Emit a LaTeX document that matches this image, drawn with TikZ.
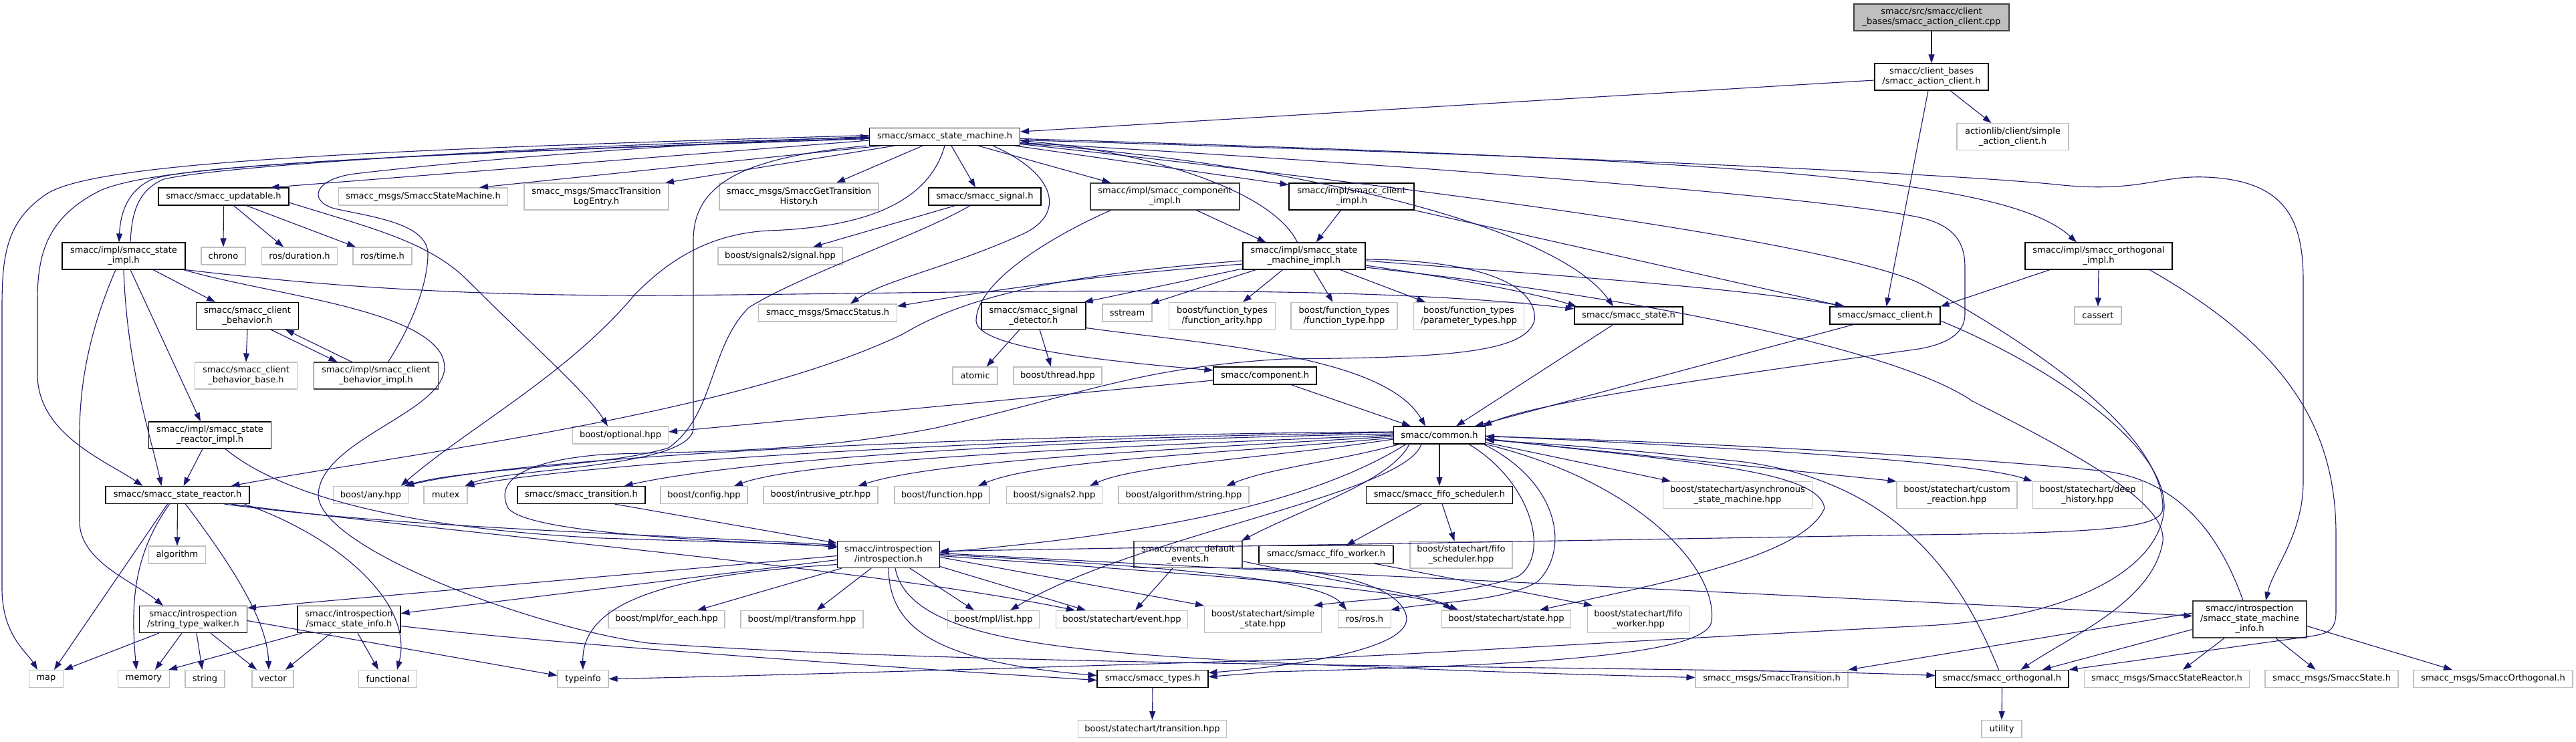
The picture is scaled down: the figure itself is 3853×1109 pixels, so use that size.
\documentclass[tikz,border=0pt]{standalone}
\usepackage{fontspec}
\setmainfont{DejaVu Sans}
\usetikzlibrary{arrows.meta}
\definecolor{eb}{HTML}{191970}
\definecolor{g75}{HTML}{BFBFBF}
\definecolor{g25}{HTML}{404040}
\newcommand{\lbl}{\fontsize{13}{15}\selectfont}
\tikzset{
  nb/.style={draw=black, line width=1.1pt, fill=white, inner sep=0pt, align=center, font=\lbl, minimum height=26pt},
  ng/.style={nb, draw=g75},
  nd/.style={nb, draw=g25},
  two/.style={minimum height=40pt},
  three/.style={minimum height=55pt},
  edg/.style={draw=eb, line width=1.1pt, -{Triangle[length=13pt,width=9pt]}},
}
\begin{document}
\begin{tikzpicture}[x=1pt,y=-1pt]
\fill[white] (0,0) rectangle (3853,1109);
\useasboundingbox (0,0) rectangle (3853,1109);
% ---------------- nodes ----------------
\node[nd,fill=g75,two,minimum width=232pt] (root) at (2889,26) {smacc/src/smacc/client\\\_bases/smacc\_action\_client.cpp};
\node[nb,two,minimum width=170pt] (ac) at (2889,115) {smacc/client\_bases\\/smacc\_action\_client.h};
\node[nb,minimum width=225pt] (sm) at (1413,204.5) {smacc/smacc\_state\_machine.h};
\node[ng,two,minimum width=167pt] (sac) at (3010.5,204.5) {actionlib/client/simple\\\_action\_client.h};
\node[nb,minimum width=195pt] (upd) at (334.5,294) {smacc/smacc\_updatable.h};
\node[ng,minimum width=253pt] (msm) at (633,294) {smacc\_msgs/SmaccStateMachine.h};
\node[ng,two,minimum width=216pt] (mtle) at (892,294) {smacc\_msgs/SmaccTransition\\LogEntry.h};
\node[ng,two,minimum width=238pt] (mgth) at (1195,294) {smacc\_msgs/SmaccGetTransition\\History.h};
\node[nb,minimum width=168pt] (sig) at (1473,294) {smacc/smacc\_signal.h};
\node[nd,two,minimum width=223pt] (compimpl) at (1742.5,294) {smacc/impl/smacc\_component\\\_impl.h};
\node[nb,two,minimum width=187pt] (climpl) at (2021.5,294) {smacc/impl/smacc\_client\\\_impl.h};
\node[nb,two,minimum width=184pt] (stimpl) at (185,383) {smacc/impl/smacc\_state\\\_impl.h};
\node[ng,minimum width=66pt] (chrono) at (334,383) {chrono};
\node[ng,minimum width=113pt] (rosdur) at (448,383) {ros/duration.h};
\node[ng,minimum width=88pt] (rostime) at (572,383) {ros/time.h};
\node[ng,minimum width=186pt] (sigsig) at (1167,383) {boost/signals2/signal.hpp};
\node[nb,two,minimum width=183pt] (smimpl) at (1950.5,383) {smacc/impl/smacc\_state\\\_machine\_impl.h};
\node[nb,two,minimum width=220pt] (orthimpl) at (3139,383) {smacc/impl/smacc\_orthogonal\\\_impl.h};
\node[nb,two,minimum width=153pt] (clbeh) at (370,472.5) {smacc/smacc\_client\\\_behavior.h};
\node[ng,minimum width=207pt] (status) at (1238,468) {smacc\_msgs/SmaccStatus.h};
\node[nb,two,minimum width=156pt] (sigdet) at (1546,472.5) {smacc/smacc\_signal\\\_detector.h};
\node[ng,minimum width=74pt] (sstream) at (1686,468) {sstream};
\node[ng,two,minimum width=159pt] (farity) at (1828,472.5) {boost/function\_types\\/function\_arity.hpp};
\node[ng,two,minimum width=159pt] (ftype) at (2010.5,472.5) {boost/function\_types\\/function\_type.hpp};
\node[ng,two,minimum width=165pt] (ptypes) at (2197,472.5) {boost/function\_types\\/parameter\_types.hpp};
\node[nb,minimum width=162pt] (state) at (2436,472) {smacc/smacc\_state.h};
\node[nb,minimum width=165pt] (client) at (2819.5,472) {smacc/smacc\_client.h};
\node[ng,minimum width=70pt] (cassert) at (3138,472) {cassert};
\node[ng,two,minimum width=153pt] (clbehbase) at (368,562) {smacc/smacc\_client\\\_behavior\_base.h};
\node[nd,two,minimum width=186pt] (clbehimpl) at (562.5,562) {smacc/impl/smacc\_client\\\_behavior\_impl.h};
\node[ng,minimum width=67pt] (atomic) at (1458.5,562) {atomic};
\node[ng,minimum width=132pt] (bthread) at (1582,562) {boost/thread.hpp};
\node[nb,minimum width=154pt] (comp) at (1892,562) {smacc/component.h};
\node[nb,two,minimum width=183pt] (reactimpl) at (314,651) {smacc/impl/smacc\_state\\\_reactor\_impl.h};
\node[ng,minimum width=143pt] (optional) at (928,651) {boost/optional.hpp};
\node[nb,minimum width=137pt] (common) at (2153,651) {smacc/common.h};
\node[nb,minimum width=215pt] (reactor) at (265.5,740.5) {smacc/smacc\_state\_reactor.h};
\node[ng,minimum width=112pt] (anyhpp) at (554.5,740.5) {boost/any.hpp};
\node[ng,minimum width=65pt] (mutex) at (666.5,740.5) {mutex};
\node[nb,minimum width=191pt] (trans) at (869.5,740.5) {smacc/smacc\_transition.h};
\node[ng,minimum width=130pt] (config) at (1053,740.5) {boost/config.hpp};
\node[ng,minimum width=171pt] (intrus) at (1227.5,740.5) {boost/intrusive\_ptr.hpp};
\node[ng,minimum width=142pt] (bfunc) at (1409,740.5) {boost/function.hpp};
\node[ng,minimum width=143pt] (sigtwo) at (1577,740.5) {boost/signals2.hpp};
\node[ng,minimum width=195pt] (algstr) at (1770.5,740.5) {boost/algorithm/string.hpp};
\node[nb,minimum width=219pt] (fifosch) at (2153,740.5) {smacc/smacc\_fifo\_scheduler.h};
\node[ng,two,minimum width=223pt] (async) at (2599,740.5) {boost/statechart/asynchronous\\\_state\_machine.hpp};
\node[ng,two,minimum width=180pt] (custom) at (2927,740.5) {boost/statechart/custom\\\_reaction.hpp};
\node[ng,two,minimum width=164pt] (deep) at (3122.5,740.5) {boost/statechart/deep\\\_history.hpp};
\node[ng,minimum width=85pt] (algorithm) at (265,830) {algorithm};
\node[nb,two,minimum width=153pt] (intro) at (1329,829.5) {smacc/introspection\\/introspection.h};
\node[nd,two,minimum width=162pt] (defev) at (1777,829.5) {smacc/smacc\_default\\\_events.h};
\node[nb,minimum width=201pt] (fifow) at (1983.5,829.5) {smacc/smacc\_fifo\_worker.h};
\node[ng,two,minimum width=153pt] (fifoschhpp) at (2185.5,830) {boost/statechart/fifo\\\_scheduler.hpp};
\node[nb,two,minimum width=161pt] (stw) at (289,926.5) {smacc/introspection\\/string\_type\_walker.h};
\node[nb,two,minimum width=154pt] (ssi) at (522,926.5) {smacc/introspection\\/smacc\_state\_info.h};
\node[ng,minimum width=174pt] (foreach) at (997,926.5) {boost/mpl/for\_each.hpp};
\node[ng,minimum width=183pt] (transform) at (1199.5,926.5) {boost/mpl/transform.hpp};
\node[ng,minimum width=137pt] (list) at (1486,926.5) {boost/mpl/list.hpp};
\node[ng,minimum width=197pt] (event) at (1678,926.5) {boost/statechart/event.hpp};
\node[ng,two,minimum width=175pt] (simple) at (1889,926.5) {boost/statechart/simple\\\_state.hpp};
\node[ng,minimum width=79pt] (rosros) at (2041,926) {ros/ros.h};
\node[ng,minimum width=193pt] (statehpp) at (2253,926) {boost/statechart/state.hpp};
\node[ng,two,minimum width=152pt] (fifowhpp) at (2450.5,926.5) {boost/statechart/fifo\\\_worker.hpp};
\node[nd,three,minimum width=170pt] (smi) at (3365,926.5) {smacc/introspection\\/smacc\_state\_machine\\\_info.h};
\node[ng,minimum width=51pt] (map) at (69,1015.5) {map};
\node[ng,minimum width=77pt] (memory) at (215,1015.5) {memory};
\node[ng,minimum width=59pt] (string) at (306.5,1015.5) {string};
\node[ng,minimum width=62pt] (vector) at (408,1015.5) {vector};
\node[ng,minimum width=87pt] (functional) at (580,1015.5) {functional};
\node[ng,minimum width=76pt] (typeinfo) at (872,1015.5) {typeinfo};
\node[nb,minimum width=166pt] (types) at (1724,1015.5) {smacc/smacc\_types.h};
\node[ng,minimum width=228pt] (smtrans) at (2650,1015.5) {smacc\_msgs/SmaccTransition.h};
\node[nb,minimum width=199pt] (orth) at (2994.5,1015.5) {smacc/smacc\_orthogonal.h};
\node[ng,minimum width=247pt] (msr) at (3241,1015.5) {smacc\_msgs/SmaccStateReactor.h};
\node[ng,minimum width=199pt] (mstate) at (3487.5,1015.5) {smacc\_msgs/SmaccState.h};
\node[ng,minimum width=238pt] (morth) at (3729,1015.5) {smacc\_msgs/SmaccOrthogonal.h};
\node[ng,minimum width=222pt] (trhpp) at (1723.5,1090.5) {boost/statechart/transition.hpp};
\node[ng,minimum width=60pt] (utility) at (2994,1090.5) {utility};
% ---------------- edges ----------------
\draw[edg] (root.south) -- (ac.north);
\draw[edg] ([yshift=-5pt]ac.west) -- ([yshift=7.5pt]sm.east);
\draw[edg] ([xshift=28pt]ac.south) -- ([xshift=-32pt]sac.north);
\draw[edg] ([xshift=-5pt]ac.south) -- ([xshift=2pt]client.north);
% from state machine
\draw[edg] ([yshift=-5.5pt]sm.west) -- ([xshift=70pt]upd.north);
\draw[edg] ([xshift=-95pt]sm.south) -- ([xshift=84pt]msm.north);
\draw[edg] ([xshift=-75pt]sm.south) -- ([xshift=103pt]mtle.north);
\draw[edg] ([xshift=-33pt]sm.south) -- ([xshift=56pt]mgth.north);
\draw[edg] ([xshift=10pt]sm.south) -- ([xshift=-14pt]sig.north);
\draw[edg] ([xshift=50pt]sm.south) -- ([xshift=-81pt]compimpl.north);
\draw[edg] ([xshift=-8pt]sm.south east) -- ([yshift=-3pt]climpl.north west);
\draw[edg] ([yshift=-3pt]sm.west) .. controls (800,225) and (300,243) .. (228,268) .. controls (190,285) and (180,320) .. ([xshift=-7pt]stimpl.north);
\draw[edg] ([xshift=10pt]stimpl.north) .. controls (197,320) and (205,285) .. (245,268) .. controls (330,248) and (800,218) .. ([yshift=-1pt]sm.west);
\draw[edg] ([yshift=2pt]sm.west) .. controls (500,225) and (140,245) .. (70,290) .. controls (10,330) and (3,380) .. (3,460) -- (3,880) .. controls (3,950) and (40,975) .. ([xshift=-13pt]map.north);
\draw[edg] ([yshift=-2pt]sm.west) .. controls (500,235) and (230,250) .. (150,285) .. controls (70,325) and (56,380) .. (56,450) -- (56,560) .. controls (56,650) and (160,690) .. ([xshift=-52pt]reactor.north);
\draw[edg] (sm.south) .. controls (1390,300) and (1300,340) .. (1150,345) .. controls (1050,350) and (990,400) .. (950,440) .. controls (850,560) and (700,640) .. ([xshift=45pt]anyhpp.north);
\draw[edg] ([xshift=-4pt]sm.south west) .. controls (1120,235) and (1037,270) .. (1037,360) -- (1037,640) .. controls (1037,700) and (760,700) .. ([xshift=29pt]mutex.north);
\draw[edg] ([xshift=-22pt]sig.south) .. controls (1380,350) and (1200,410) .. (1120,460) .. controls (1060,520) and (1070,620) .. (1000,670) .. controls (900,700) and (700,700) .. ([xshift=50pt]anyhpp.north);
\draw[edg] ([xshift=72pt]sm.south) .. controls (1580,260) and (1595,320) .. (1530,350) .. controls (1420,400) and (1320,420) .. ([xshift=34pt]status.north);
\draw[edg] ([yshift=-10pt]sm.east) .. controls (1950,245) and (2330,340) .. ([xshift=-23pt]state.north);
\draw[edg] ([yshift=-3pt]sm.east) .. controls (2600,240) and (3000,265) .. ([xshift=-33pt]orthimpl.north);
\draw[edg] ([yshift=-5pt]sm.east) .. controls (2400,235) and (2950,262) .. (3085,277) .. controls (3200,288) and (3230,262) .. (3300,265) .. controls (3420,270) and (3445,330) .. (3445,420) -- (3445,720) .. controls (3445,800) and (3400,850) .. ([xshift=24pt]smi.north);
\draw[edg] ([yshift=-9pt]sm.east) .. controls (2000,240) and (2700,290) .. (2870,325) .. controls (2930,338) and (2939,370) .. (2939,400) -- (2939,470) .. controls (2939,500) and (2910,515) .. (2870,522) .. controls (2600,560) and (2300,600) .. ([xshift=-4pt]common.north east);
\draw[edg] ([yshift=-11pt]sm.east) .. controls (2300,300) and (2750,370) .. (2870,423) .. controls (3050,520) and (3235,650) .. (3235,760) .. controls (3235,790) and (3150,797) .. (2870,800) -- ([yshift=5pt]intro.east);
\draw[edg] ([xshift=-10pt]smimpl.north) .. controls (1900,280) and (1700,225) .. ([yshift=-6pt]sm.east);
\draw[edg] ([xshift=18pt]clbehimpl.north) .. controls (620,480) and (640,420) .. (640,380) .. controls (640,335) and (560,325) .. (500,312) .. controls (460,300) and (470,268) .. (530,260) .. controls (700,240) and (1000,215) .. (sm.west);
% updatable, signal
\draw[edg] (upd.south) -- (chrono.north);
\draw[edg] ([xshift=15pt]upd.south) -- ([xshift=-24pt]rosdur.north);
\draw[edg] ([xshift=34pt]upd.south) -- ([xshift=-40pt]rostime.north);
\draw[edg] ([yshift=-9pt]upd.east) .. controls (550,340) and (640,360) .. (700,420) .. controls (800,520) and (880,590) .. ([xshift=-19pt]optional.north);
\draw[edg] ([xshift=-44pt]sig.south) -- ([xshift=49pt]sigsig.north);
% impl files
\draw[edg] ([xshift=47pt]compimpl.south) -- ([xshift=-57pt]smimpl.north);
\draw[edg] ([xshift=-81pt]compimpl.south) .. controls (1580,350) and (1460,420) .. (1460,480) .. controls (1460,520) and (1650,540) .. ([yshift=8pt]comp.west);
\draw[edg] ([xshift=-16pt]climpl.south) -- ([xshift=18pt]smimpl.north);
\draw[edg] (climpl.south east) -- ([xshift=-62pt]client.north);
\draw[edg] ([xshift=44pt]stimpl.south) -- ([xshift=-48pt]clbeh.north);
\draw[edg] ([xshift=10pt]stimpl.south) -- ([xshift=-14pt]reactimpl.north);
\draw[edg] (stimpl.south) .. controls (190,550) and (225,650) .. ([xshift=-24pt]reactor.north);
\draw[edg] ([xshift=-12pt]stimpl.south) .. controls (140,480) and (119,560) .. (119,650) -- (119,780) .. controls (119,840) and (200,870) .. ([xshift=-45pt]stw.north);
\draw[edg] (stimpl.south east) .. controls (500,430) and (700,442) .. (970,442) .. controls (1400,440) and (2000,420) .. ([yshift=10pt]state.west);
\draw[edg] ([xshift=-3pt]stimpl.south east) .. controls (400,440) and (620,460) .. (660,530) .. controls (700,610) and (480,650) .. (476,740) .. controls (476,820) and (800,940) .. (970,962) .. controls (1500,1000) and (2500,995) .. ([yshift=5pt]orth.west);
\draw[edg] (clbeh.south) -- (clbehbase.north);
\draw[edg] ([xshift=35pt]clbeh.south) -- ([xshift=-58pt]clbehimpl.north);
\draw[edg] ([xshift=-36pt]clbehimpl.north) -- ([xshift=57pt]clbeh.south);
\draw[edg] ([xshift=-11pt]reactimpl.south) -- ([xshift=9pt]reactor.north);
\draw[edg] ([xshift=23pt]reactimpl.south) .. controls (420,740) and (600,790) .. (900,805) .. controls (1100,812) and (1200,812) .. ([yshift=10pt]intro.west);
% state machine impl
\draw[edg] ([yshift=-12pt]smimpl.west) .. controls (1600,415) and (1450,440) .. ([yshift=10pt]status.east);
\draw[edg] ([yshift=-19pt]smimpl.west) -- ([xshift=-3pt]sigdet.north east);
\draw[edg] ([xshift=-72pt]smimpl.south) -- ([xshift=-3pt]sstream.north east);
\draw[edg] ([xshift=-32pt]smimpl.south) -- ([xshift=31pt]farity.north);
\draw[edg] ([xshift=14pt]smimpl.south) -- ([xshift=-17pt]ftype.north);
\draw[edg] ([xshift=54pt]smimpl.south) -- ([xshift=-65pt]ptypes.north);
\draw[edg] ([yshift=-14pt]smimpl.east) .. controls (2200,420) and (2300,440) .. ([xshift=-78pt]state.north);
\draw[edg] ([yshift=-7pt]smimpl.east) .. controls (2300,410) and (2600,430) .. ([xshift=-60pt]client.north);
\draw[edg] ([yshift=-7pt]smimpl.west) .. controls (1600,410) and (1450,440) .. (1350,500) .. controls (1100,620) and (600,680) .. ([xshift=80pt]reactor.north);
\draw[edg] ([yshift=-17pt]smimpl.east) .. controls (2500,450) and (2850,530) .. (2950,600) .. controls (3150,700) and (3240,760) .. (3235,810) .. controls (3220,900) and (3100,950) .. ([xshift=28pt]orth.north);
\draw[edg] ([yshift=-5pt]smimpl.east) .. controls (2250,390) and (2300,440) .. (2295,480) .. controls (2280,530) and (2150,535) .. (1920,537) .. controls (1700,550) and (1620,590) .. (1400,640) .. controls (1200,680) and (1000,675) .. (900,680) .. controls (780,690) and (740,720) .. (760,760) .. controls (790,800) and (1100,810) .. ([yshift=12pt]intro.west);
% detector, component, state, client
\draw[edg] ([xshift=-21pt]sigdet.south) -- ([xshift=17pt]atomic.north);
\draw[edg] ([xshift=9pt]sigdet.south) -- ([xshift=-10pt]bthread.north);
\draw[edg] ([yshift=-18pt]sigdet.east) .. controls (1800,515) and (2070,530) .. ([xshift=-21pt]common.north);
\draw[edg] ([yshift=-7pt]comp.west) -- ([yshift=5pt]optional.east);
\draw[edg] ([xshift=39pt]comp.south) -- ([xshift=-43pt]common.north);
\draw[edg] ([xshift=-23pt]state.south) -- ([xshift=25pt]common.north);
\draw[edg] ([xshift=-47pt]client.south) -- ([xshift=53pt]common.north);
\draw[edg] ([yshift=-8pt]client.east) .. controls (3050,540) and (3240,660) .. (3237,760) .. controls (3232,850) and (3100,925) .. (2880,936) .. controls (2500,955) and (2100,980) .. (1920,987) .. controls (1500,1000) and (1100,1012) .. (typeinfo.east);
\draw[edg] ([xshift=-73pt]orthimpl.south) -- (client.north east);
\draw[edg] (orthimpl.south) -- (cassert.north);
\draw[edg] ([xshift=76pt]orthimpl.south) .. controls (3420,520) and (3494,640) .. (3494,800) -- (3494,915) .. controls (3494,945) and (3480,948) .. (3455,952) -- (orth.north east);
% state machine info, orthogonal
\draw[edg] ([xshift=-10pt]smi.north) .. controls (3320,800) and (3260,720) .. (3150,705) .. controls (2900,680) and (2500,660) .. ([yshift=-2pt]common.east);
\draw[edg] ([yshift=-15pt]smi.west) -- ([xshift=60pt]orth.north);
\draw[edg] ([xshift=-38pt]smi.south) -- ([xshift=24pt]msr.north);
\draw[edg] ([xshift=39pt]smi.south) -- ([xshift=-24pt]mstate.north);
\draw[edg] ([yshift=-10pt]smi.east) -- ([xshift=-61pt]morth.north);
\draw[edg] ([yshift=9.5pt]smi.west) -- (smtrans.north east);
\draw[edg] (orth.south) -- (utility.north);
\draw[edg] ([xshift=-5pt]orth.north) .. controls (2940,880) and (2850,720) .. (2600,690) .. controls (2400,670) .. ([yshift=-7pt]common.east);
% common
\draw[edg] ([yshift=5pt]common.west) .. controls (1500,650) and (800,680) .. ([xshift=52pt]anyhpp.north);
\draw[edg] ([yshift=4pt]common.west) .. controls (1500,655) and (900,690) .. ([xshift=30pt]mutex.north);
\draw[edg] ([yshift=2pt]common.west) .. controls (1500,660) and (1100,690) .. ([xshift=64pt]trans.north);
\draw[edg] (common.west) .. controls (1600,670) and (1200,690) .. ([xshift=45pt]config.north);
\draw[edg] ([yshift=-2pt]common.west) .. controls (1700,675) and (1400,690) .. ([xshift=56pt]intrus.north);
\draw[edg] ([yshift=-4pt]common.west) .. controls (1800,680) and (1550,690) .. ([xshift=54pt]bfunc.north);
\draw[edg] ([yshift=-6pt]common.west) .. controls (1900,685) and (1700,695) .. ([xshift=53pt]sigtwo.north);
\draw[edg] ([xshift=-60pt]common.south) .. controls (2000,690) and (1900,700) .. ([xshift=64pt]algstr.north);
\draw[edg] (common.south) -- (fifosch.north);
\draw[edg] ([xshift=-50pt]common.south) .. controls (1950,760) and (1700,800) .. ([yshift=3pt]intro.east);
\draw[edg] ([xshift=-45pt]common.south) .. controls (2080,720) and (1950,760) .. ([xshift=80pt]defev.north);
\draw[edg] ([xshift=-27pt]common.south) .. controls (2100,740) and (1700,800) .. ([xshift=25pt]list.north);
\draw[edg] ([xshift=44pt]common.south) .. controls (2290,720) and (2320,830) .. (2271,862) .. controls (2200,890) and (2050,895) .. ([xshift=76pt]simple.north);
\draw[edg] ([xshift=66pt]common.south) .. controls (2330,720) and (2350,820) .. (2300,870) .. controls (2250,900) and (2150,900) .. ([xshift=39pt]rosros.north);
\draw[edg] ([yshift=-5pt]common.east) .. controls (2500,690) and (2720,700) .. (2729,760) .. controls (2700,830) and (2500,870) .. ([xshift=50pt]statehpp.north);
\draw[edg] (common.south east) .. controls (2450,720) and (2570,850) .. (2560,930) .. controls (2550,980) and (2300,995) .. (1900,1005) -- ([yshift=3pt]types.east);
\draw[edg] ([yshift=-11pt]common.east) -- ([xshift=12pt]async.north west);
\draw[edg] ([yshift=-6pt]common.east) -- (custom.north west);
\draw[edg] ([yshift=-1pt]common.east) .. controls (2600,670) and (2950,690) .. (deep.north west);
% introspection
\draw[edg] ([xshift=-70pt]intro.south) -- ([xshift=46pt]foreach.north);
\draw[edg] ([xshift=-26pt]intro.south) -- ([xshift=22pt]transform.north);
\draw[edg] ([xshift=32pt]intro.south) -- ([xshift=-29pt]list.north);
\draw[edg] ([yshift=-18pt]intro.east) -- ([xshift=-54pt]event.north);
\draw[edg] ([yshift=-4pt]intro.east) -- (simple.north west);
\draw[edg] ([yshift=-2pt]intro.east) .. controls (1800,860) and (2100,880) .. ([xshift=-72pt]statehpp.north);
\draw[edg] (intro.east) .. controls (1800,850) and (1980,870) .. ([xshift=-27pt]rosros.north);
\draw[edg] (intro.south) .. controls (1330,940) and (1400,990) .. ([yshift=5pt]types.west);
\draw[edg] ([xshift=10pt]intro.south) .. controls (1360,960) and (1600,975) .. (1920,992) .. controls (2200,1005) and (2400,1010) .. ([yshift=2pt]smtrans.west);
\draw[edg] ([yshift=-8pt]intro.west) -- ([yshift=9pt]ssi.east);
\draw[edg] ([yshift=-2pt]intro.west) -- ([yshift=17pt]stw.east);
\draw[edg] ([yshift=-15pt]intro.west) .. controls (1000,860) and (870,900) .. (typeinfo.north);
\draw[edg] ([yshift=2pt]intro.east) .. controls (2000,860) and (2900,900) .. ([yshift=5pt]smi.west);
\draw[edg] ([xshift=50pt]trans.south) -- ([yshift=17pt]intro.west);
% reactor
\draw[edg] ([xshift=70pt]reactor.south) .. controls (600,790) and (1000,800) .. ([yshift=14pt]intro.west);
\draw[edg] ([xshift=80pt]reactor.south) .. controls (700,800) and (1300,850) .. ([xshift=-70pt]event.north);
\draw[edg] ([xshift=-15pt]reactor.south) -- ([xshift=12pt]map.north);
\draw[edg] ([xshift=-12pt]reactor.south) .. controls (200,830) and (195,900) .. ([xshift=-11pt]memory.north);
\draw[edg] (reactor.south) -- (algorithm.north);
\draw[edg] ([xshift=12pt]reactor.south) .. controls (350,850) and (400,930) .. ([xshift=-6pt]vector.north);
\draw[edg] ([xshift=100pt]reactor.south) .. controls (500,800) and (620,900) .. ([xshift=14pt]functional.north);
% fifo, events, types
\draw[edg] ([xshift=-27pt]fifosch.south) -- ([xshift=30pt]fifow.north);
\draw[edg] ([xshift=4pt]fifosch.south) -- ([xshift=-10pt]fifoschhpp.north);
\draw[edg] ([xshift=72pt]fifow.south) -- ([xshift=8pt]fifowhpp.north west);
\draw[edg] ([xshift=-23pt]defev.south) -- ([xshift=20pt]event.north);
\draw[edg] (defev.south east) .. controls (2000,850) and (2100,880) .. (2104,925) .. controls (2105,970) and (1950,995) .. ([yshift=9pt]types.east);
\draw[edg] ([yshift=-10pt]defev.east) .. controls (2000,870) and (2150,895) .. ([xshift=-82pt]statehpp.north);
\draw[edg] (types.south) -- (trhpp.north);
% walkers and info
\draw[edg] ([xshift=-51pt]stw.south) -- ([xshift=27pt]map.north);
\draw[edg] ([xshift=-17pt]stw.south) -- ([xshift=17pt]memory.north);
\draw[edg] ([xshift=5pt]stw.south) -- ([xshift=-4pt]string.north);
\draw[edg] ([xshift=26pt]stw.south) -- ([xshift=-24pt]vector.north);
\draw[edg] ([yshift=-2pt]stw.east) -- ([yshift=5pt]typeinfo.west);
\draw[edg] ([xshift=-70pt]ssi.south) -- ([xshift=37pt]memory.north);
\draw[edg] ([xshift=-27pt]ssi.south) -- ([xshift=19pt]vector.north);
\draw[edg] ([xshift=13pt]ssi.south) -- ([xshift=-14pt]functional.north);
\draw[edg] ([yshift=-10pt]ssi.east) .. controls (800,960) and (1200,990) .. ([yshift=-2pt]types.west);
\end{tikzpicture}
\end{document}
